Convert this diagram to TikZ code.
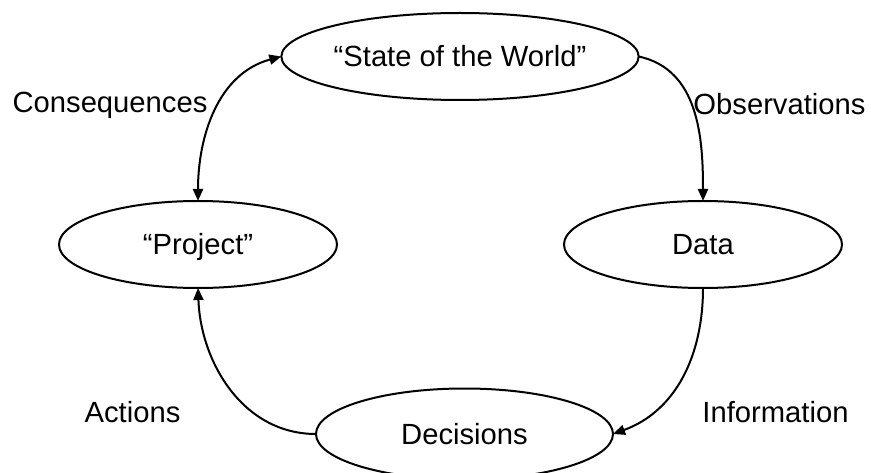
\documentclass[tikz,border=0pt]{standalone}
\usepackage{fontspec}
\setmainfont{Liberation Sans}
\usetikzlibrary{shapes.geometric,arrows.meta}
\tikzset{
  oval/.style={ellipse, draw, line width=2pt, inner sep=0pt, outer sep=0pt,
    minimum height=87pt, text height=20.6pt, text depth=0pt,
    font=\fontsize{29.2}{30}\selectfont},
  lbl/.style={anchor=base, inner sep=0pt, font=\fontsize{29.2}{30}\selectfont},
  conn/.style={line width=2pt, -{Triangle[length=12pt,width=10pt]}},
}
\begin{document}
\begin{tikzpicture}[x=1pt,y=1pt]
\useasboundingbox (0,0) rectangle (871,-473);
\node[oval, minimum width=305pt] (state) at (460,-56.5) {“State of the World”};
\node[oval, minimum width=278pt] (project) at (198,-244.5) {“Project”};
\node[oval, minimum width=278pt] (data) at (703,-244.5) {Data};
\node[oval, minimum width=297pt, minimum height=91pt] (dec) at (464.5,-434) {Decisions};

\node[lbl] (lcons) at (110,-113) {Consequences};
\node[lbl] (lobs) at (779.5,-115) {Observations};
\node[lbl] (lact) at (132.5,-422) {Actions};
\node[lbl] (linf) at (775.5,-422) {Information};

\draw[conn, {Triangle[length=12pt,width=10pt]}-{Triangle[length=12pt,width=10pt]}] (project.north) to[out=90, in=195] (state.west);
\draw[conn] (state.east) to[out=-12, in=90] (data.north);
\draw[conn] (data.south) to[out=-90, in=20] (dec.east);
\draw[conn] (dec.west) to[out=180, in=-88] (project.south);
\end{tikzpicture}
\end{document}
